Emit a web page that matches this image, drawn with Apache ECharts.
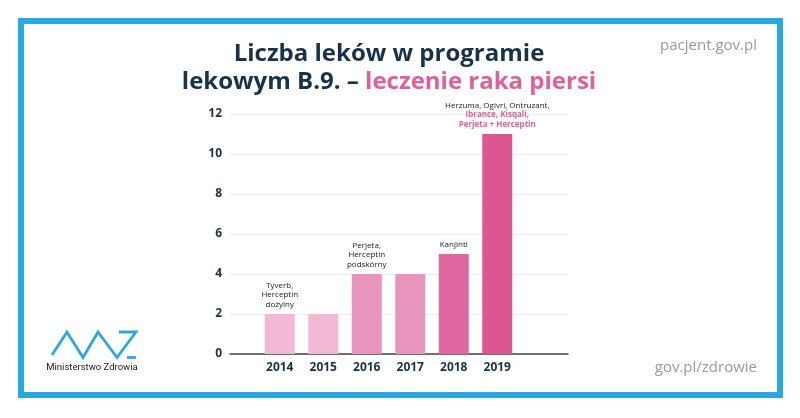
<!DOCTYPE html>
<html>
<head>
<meta charset="utf-8">
<script src="https://cdn.jsdelivr.net/npm/echarts@6/dist/echarts.min.js"></script>
<style>html,body{margin:0;padding:0;background:#fff;}#c{width:800px;height:418px;}</style>
</head>
<body>
<div id="c"></div>
<script>
const categories = ['2014', '2015', '2016', '2017', '2018', '2019'];
const drugCounts = [2, 2, 4, 4, 5, 11];
const newDrugs = [
  ['Tyverb,', 'Herceptin', 'dożylny'],
  [],
  ['Perjeta,', 'Herceptin', 'podskórny'],
  [],
  ['Kanjinti'],
  ['Herzuma, Ogivri, Ontruzant,']
];
const newDrugsHighlighted = [[], [], [], [], [], ['Ibrance, Kisqali,', 'Perjeta + Herceptin']];
const yMin = 0, yMax = 12, yStep = 2;
const titleLine1 = 'Liczba leków w programie';
const titleLine2a = 'lekowym B.9. – ';
const titleLine2b = 'leczenie raka piersi';

const barColors = ['#f1b9d3', '#f1b9d3', '#e795bd', '#e795bd', '#e066a2', '#dc5792'];
const navy = '#17324b';
const pink = '#e0609a';
const blue = '#29a9e1';

const chart = echarts.init(document.getElementById('c'));
const option = {
  backgroundColor: '#fff',
  animation: false,
  grid: [
    { left: 230, right: 232, top: 114, bottom: 64 },
    { left: 258, width: 261, top: 114, bottom: 64 }
  ],
  xAxis: [
    { type: 'category', gridIndex: 0, data: [''], axisLine: { lineStyle: { color: '#444', width: 1.5 } },
      axisTick: { show: false }, axisLabel: { show: false } },
    { type: 'category', gridIndex: 1, data: categories, axisLine: { show: false }, axisTick: { show: false },
      axisLabel: { color: navy, fontFamily: 'Open Sans', fontWeight: 'bold', fontSize: 12, margin: 8 } }
  ],
  yAxis: [
    { type: 'value', gridIndex: 0, min: yMin, max: yMax, interval: yStep,
      axisLine: { show: false }, axisTick: { show: false },
      axisLabel: { color: navy, fontFamily: 'Open Sans', fontWeight: 'bold', fontSize: 12, margin: 8 },
      splitLine: { lineStyle: { color: '#ececec', width: 1 } } },
    { type: 'value', gridIndex: 1, min: yMin, max: yMax, interval: yStep, show: false }
  ],
  series: [{
    type: 'bar', xAxisIndex: 1, yAxisIndex: 1, barWidth: 30,
    data: drugCounts.map((v, i) => ({ value: v, itemStyle: { color: barColors[i] } })),
    label: {
      show: true, position: 'top', distance: 5,
      formatter: (p) => {
        const lines = newDrugs[p.dataIndex].map(t => '{n|' + t + '}')
          .concat(newDrugsHighlighted[p.dataIndex].map(t => '{h|' + t + '}'));
        return lines.join('\n');
      },
      rich: {
        n: { fontFamily: 'Open Sans', fontSize: 8, color: '#222', lineHeight: 9.5 },
        h: { fontFamily: 'Open Sans', fontSize: 8, fontWeight: 'bold', color: pink, lineHeight: 9.5 }
      }
    }
  }],
  graphic: [
    { type: 'rect', shape: { x: 21, y: 21, width: 759, height: 374 },
      style: { fill: 'none', stroke: blue, lineWidth: 6 } },
    { type: 'text', x: 389, y: 40,
      style: { text: '{a|' + titleLine1 + '}\n{a|' + titleLine2a + '}{b|' + titleLine2b + '}',
        align: 'center', verticalAlign: 'top',
        rich: {
          a: { fontFamily: 'Open Sans', fontWeight: 'bold', fontSize: 24, lineHeight: 28, fill: navy, color: navy },
          b: { fontFamily: 'Open Sans', fontWeight: 'bold', fontSize: 24, lineHeight: 28, fill: pink, color: pink }
        } } },
    { type: 'text', x: 757, y: 46,
      style: { text: 'pacjent.gov.pl', align: 'right', verticalAlign: 'middle',
        font: '15px "Open Sans"', fill: '#999' } },
    { type: 'text', x: 757, y: 368,
      style: { text: 'gov.pl/zdrowie', align: 'right', verticalAlign: 'middle',
        font: '15px "Open Sans"', fill: '#999' } },
    { type: 'polyline', shape: { points: [[52, 355], [67, 332], [83, 357.5], [98, 332], [117, 357.5], [136, 332], [119, 332]] },
      style: { fill: 'none', stroke: blue, lineWidth: 2.8, lineJoin: 'miter' } },
    { type: 'line', shape: { x1: 127, y1: 357.5, x2: 136, y2: 357.5 },
      style: { stroke: blue, lineWidth: 2.8 } },
    { type: 'text', x: 92, y: 368,
      style: { text: 'Ministerstwo Zdrowia', align: 'center', verticalAlign: 'middle',
        font: '9.5px "Liberation Sans Narrow", "Roboto"', fill: '#222' } }
  ]
};
chart.setOption(option);
</script>
</body>
</html>
